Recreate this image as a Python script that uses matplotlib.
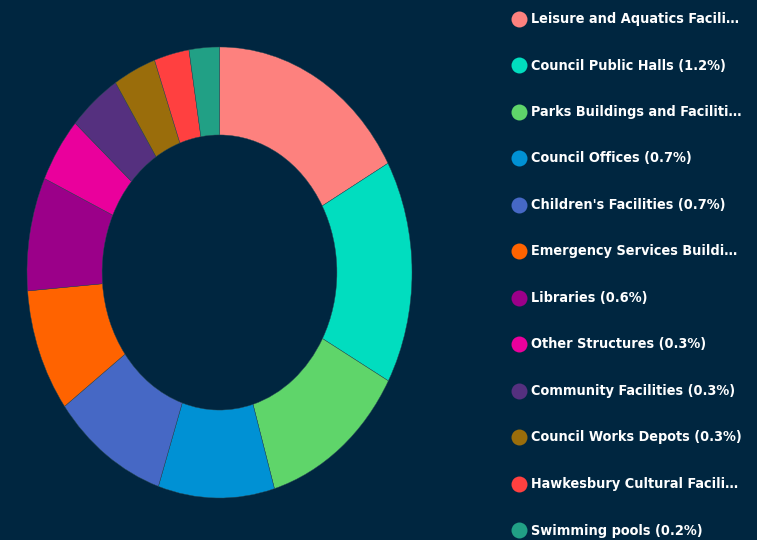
import matplotlib
matplotlib.use("Agg")
import matplotlib.pyplot as plt

labels = [
    "Leisure and Aquatics Facili\u2026",
    "Council Public Halls (1.2%)",
    "Parks Buildings and Faciliti\u2026",
    "Council Offices (0.7%)",
    "Children's Facilities (0.7%)",
    "Emergency Services Buildi\u2026",
    "Libraries (0.6%)",
    "Other Structures (0.3%)",
    "Community Facilities (0.3%)",
    "Council Works Depots (0.3%)",
    "Hawkesbury Cultural Facili\u2026",
    "Swimming pools (0.2%)",
]
values = [1.27, 1.20, 0.93, 0.73, 0.73, 0.66, 0.61, 0.35, 0.33, 0.27, 0.22, 0.19]
colors = ["#FD817E", "#01DDBF", "#5FD56A", "#0091D4", "#4668C5", "#FF6300",
          "#9B0089", "#EA009C", "#55307F", "#9A6D0B", "#FF4040", "#21A085"]

BG = "#002640"
W, H = 757, 540
fig = plt.figure(figsize=(W / 100, H / 100), dpi=100, facecolor=BG)

# donut axes (stretched vertically like the reference)
cx, cy, rx, ry = 219.5, 272.5, 192.5, 225.5
ax = fig.add_axes([(cx - rx) / W, (H - cy - ry) / H, 2 * rx / W, 2 * ry / H])
ax.set_facecolor(BG)
ax.pie(values, colors=colors, startangle=90, counterclock=False, radius=1,
       wedgeprops=dict(width=0.39, linewidth=0.3, edgecolor="#2a4a55"))
ax.set_aspect("auto")
ax.set_xlim(-1, 1)
ax.set_ylim(-1, 1)
ax.axis("off")

# legend
lax = fig.add_axes([0, 0, 1, 1])
lax.set_xlim(0, W)
lax.set_ylim(H, 0)
lax.axis("off")
lax.patch.set_alpha(0)
y0, dy = 18.5, 46.5
for i, (lab, col) in enumerate(zip(labels, colors)):
    y = y0 + i * dy
    lax.plot(519, y, "o", ms=11.5, color=col, mec="none")
    lax.text(531, y + 0.5, lab, color="white", fontsize=10.4,
             family="DejaVu Sans", fontstretch="condensed", fontweight="bold",
             va="center", ha="left")

fig.savefig("out.png", dpi=100, facecolor=BG)
